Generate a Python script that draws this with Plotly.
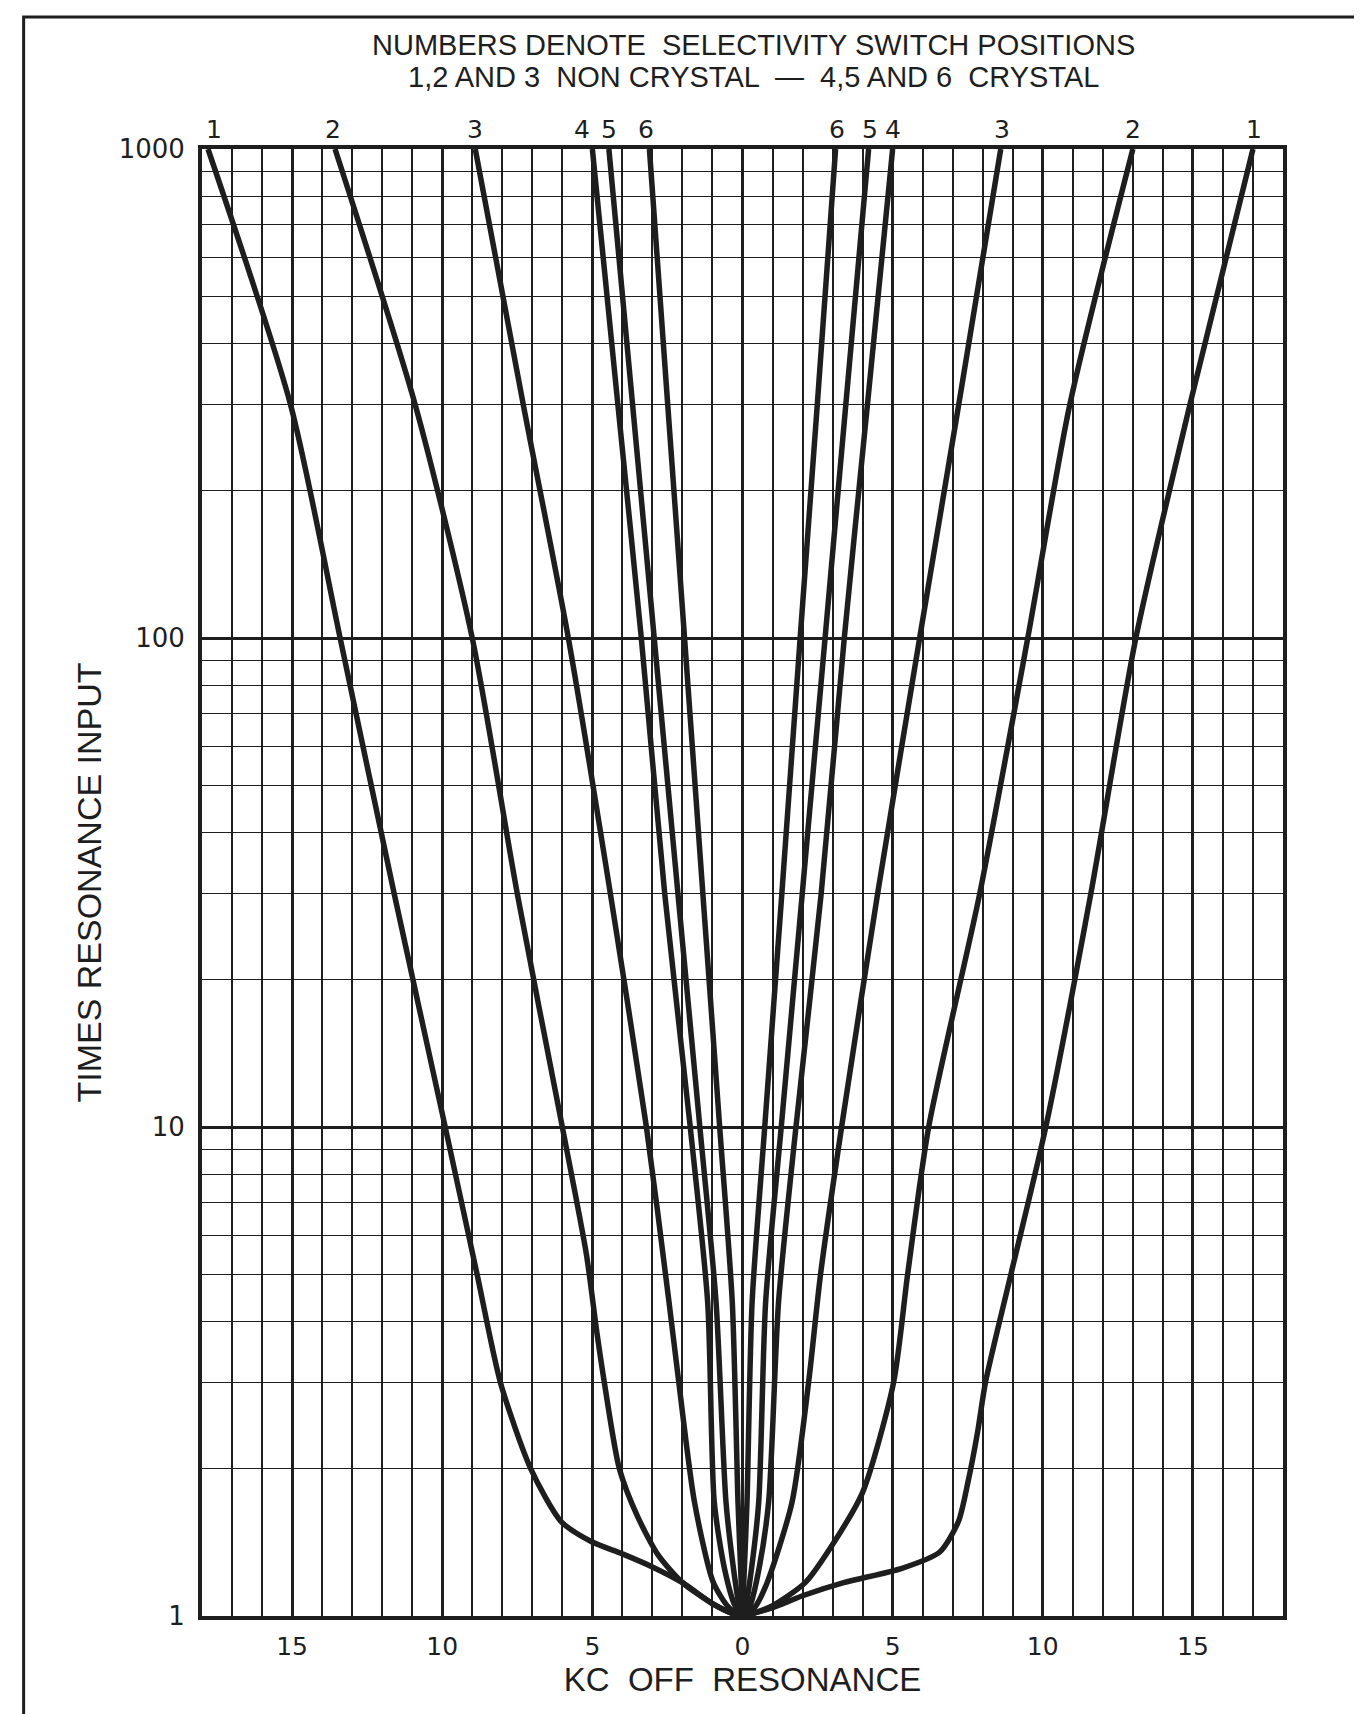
import plotly.graph_objects as go

# ---- data (kc off resonance, times resonance input) ----
c1_x = [-17.8, -15.05, -13.4, -11.6, -9.9, -8.84, -8.06, -7.05, -6.04, -5.04, -4.0, -3.0, -2.0, -1.0, -0.3, 0.0,
        0.3, 1.0, 2.0, 3.37, 5.28, 6.56, 7.19, 7.51, 7.83, 8.09, 8.94, 10.1, 11.6, 13.1, 14.9, 17.0]
c1_y = [1000, 300, 100, 30, 10, 5, 3.0, 2.0, 1.56, 1.42, 1.34, 1.26, 1.17, 1.06, 1.01, 1.0,
        1.01, 1.04, 1.1, 1.17, 1.25, 1.35, 1.56, 1.88, 2.38, 3.0, 5, 10, 30, 100, 300, 1000]

c2_x = [-13.57, -10.9, -9.0, -7.5, -6.0, -5.2, -4.85, -4.6, -4.1, -3.5, -2.8, -2.0, -1.0, -0.3, 0.0,
        0.3, 1.0, 2.09, 3.0, 4.0, 5.03, 5.5, 6.2, 7.9, 9.5, 10.9, 13.0]
c2_y = [1000, 300, 100, 30, 10, 5.5, 3.8, 3.0, 2.0, 1.6, 1.33, 1.17, 1.06, 1.01, 1.0,
        1.01, 1.05, 1.17, 1.4, 1.79, 3.0, 5, 10, 30, 100, 300, 1000]

c3_x = [-8.9, -7.3, -5.8, -4.4, -3.2, -2.45, -2.12, -1.6, -0.97, -0.45, 0.0,
        0.4, 0.82, 1.65, 2.2, 2.6, 3.3, 4.5, 5.9, 7.2, 8.6]
c3_y = [1000, 300, 100, 30, 10, 4.4, 3.0, 1.71, 1.17, 1.04, 1.0,
        1.04, 1.17, 1.71, 3.0, 5, 10, 30, 100, 300, 1000]

c4_x = [-5.0, -4.15, -3.37, -2.59, -1.74, -1.16, -0.94, -0.6, -0.25, 0.0,
        0.25, 0.55, 0.87, 1.2, 1.78, 2.62, 3.39, 4.16, 5.0]
c4_y = [1000, 300, 100, 30, 10, 4.38, 1.71, 1.25, 1.05, 1.0,
        1.05, 1.25, 1.71, 4.38, 10, 30, 100, 300, 1000]

c5_x = [-4.45, -3.66, -2.94, -2.15, -1.42, -0.88, -0.55, -0.3, -0.1, 0.0,
        0.1, 0.3, 0.54, 0.77, 1.29, 1.99, 2.75, 3.44, 4.2]
c5_y = [1000, 300, 100, 30, 10, 4.38, 1.71, 1.25, 1.04, 1.0,
        1.04, 1.25, 1.71, 4.38, 10, 30, 100, 300, 1000]

c6_x = [-3.1, -2.49, -1.93, -1.32, -0.76, -0.34, -0.15, -0.05, 0.0,
        0.05, 0.15, 0.32, 0.74, 1.31, 1.92, 2.49, 3.1]
c6_y = [1000, 300, 100, 30, 10, 4.38, 1.71, 1.2, 1.0,
        1.2, 1.71, 4.38, 10, 30, 100, 300, 1000]

curve_names = ["1", "2", "3", "4", "5", "6"]
label_x = [-17.6, -13.65, -8.9, -5.35, -4.45, -3.2, 3.15, 4.25, 5.0, 8.65, 13.0, 17.05]
label_text = ["1", "2", "3", "4", "5", "6", "6", "5", "4", "3", "2", "1"]

x_tickvals = [-15, -10, -5, 0, 5, 10, 15]
x_ticktext = ["15", "10", "5", "0", "5", "10", "15"]
y_tickvals = [1, 10, 100, 1000]
y_ticktext = ["1", "10", "100", "1000"]

title_lines = ["NUMBERS DENOTE  SELECTIVITY SWITCH POSITIONS",
               "1,2 AND 3  NON CRYSTAL  \u2014  4,5 AND 6  CRYSTAL"]

INK = "#1e1e1e"
NARROW = "Liberation Sans Narrow, Arial Narrow, Liberation Sans, sans-serif"
GEO = "DejaVu Sans, Liberation Sans, sans-serif"

fig = go.Figure()
for name, xs, ys in zip(curve_names,
                        [c1_x, c2_x, c3_x, c4_x, c5_x, c6_x],
                        [c1_y, c2_y, c3_y, c4_y, c5_y, c6_y]):
    fig.add_trace(go.Scatter(x=xs, y=ys, mode="lines", name=name,
                             line=dict(color=INK, width=5.5, shape="spline", smoothing=0.7),
                             showlegend=False, hoverinfo="skip"))

fig.update_layout(
    width=1362, height=1714,
    margin=dict(l=194, r=87, t=141, b=106),
    paper_bgcolor="white", plot_bgcolor="white",
    showlegend=False,
)

fig.update_xaxes(
    range=[-18, 18], tickvals=x_tickvals, ticktext=x_ticktext,
    showgrid=True, gridcolor=INK, gridwidth=3,
    minor=dict(dtick=1, showgrid=True, gridcolor=INK, gridwidth=1.5),
    zeroline=False, showline=True, linecolor=INK, linewidth=4, mirror=True,
    ticks="", ticklabelstandoff=5,
    tickfont=dict(family=GEO, size=25, color=INK),
    title=dict(text="KC  OFF  RESONANCE", font=dict(family=NARROW, size=33, color=INK), standoff=0),
)
fig.update_yaxes(
    type="log", range=[0, 3], tickvals=y_tickvals, ticktext=y_ticktext,
    showgrid=True, gridcolor=INK, gridwidth=2.5,
    minor=dict(dtick="D1", showgrid=True, gridcolor=INK, gridwidth=1.2),
    zeroline=False, showline=True, linecolor=INK, linewidth=4, mirror=True,
    ticks="", ticklabelstandoff=8,
    tickfont=dict(family=GEO, size=26, color=INK),
    title=dict(text="TIMES RESONANCE INPUT", font=dict(family=NARROW, size=34, color=INK), standoff=8),
)

for lx, lt in zip(label_x, label_text):
    fig.add_annotation(x=lx, y=1.0, xref="x", yref="paper", yanchor="middle", yshift=20,
                       text=lt, showarrow=False,
                       font=dict(family=GEO, size=25, color=INK))

for i, t in enumerate(title_lines):
    fig.add_annotation(x=0.51, y=1.0, xref="paper", yref="paper", yanchor="middle",
                       yshift=104 - i * 32,
                       text=t, showarrow=False,
                       font=dict(family=NARROW, size=29, color=INK))

# page frame
fig.add_shape(type="rect", xref="paper", yref="paper",
              x0=-0.165, x1=1.072, y0=-0.07, y1=1.090,
              line=dict(color=INK, width=3))

fig.write_html("out.html")
